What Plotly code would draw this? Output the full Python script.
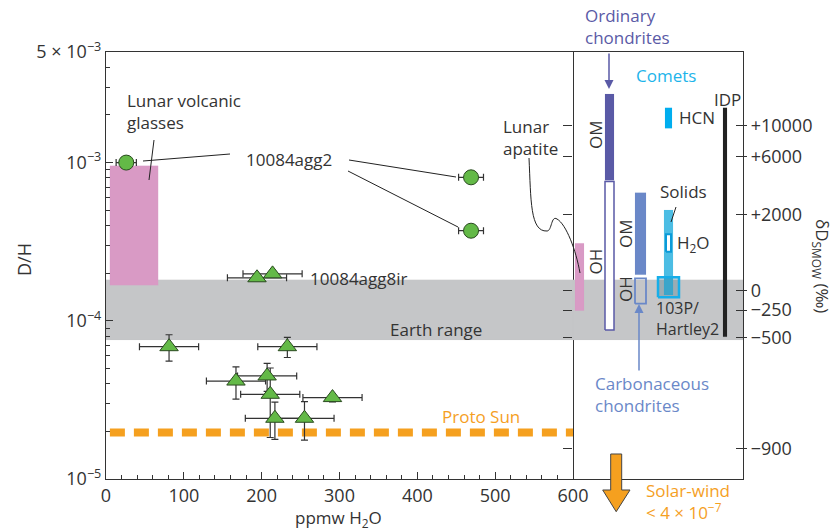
import plotly.graph_objects as go

# ---------------- data ----------------
# 10084agg2 (circles)
agg2_ppm = [26, 469, 469]
agg2_ppm_err = [13, 16, 16]
agg2_dh = [1.00e-3, 8.07e-4, 3.71e-4]

# 10084agg8ir and other lunar glasses (triangles)
agg8_ppm = [194, 214, 81, 233, 167, 207, 211, 217, 255, 291]
agg8_ppm_err = [38, 38, 38, 38, 38, 38, 38, 38, 38, 38]
agg8_dh = [1.87e-4, 1.98e-4, 6.86e-5, 6.86e-5, 4.16e-5, 4.48e-5, 3.43e-5, 2.42e-5, 2.42e-5, 3.27e-5]
agg8_dh_err = [0, 0, 1.3e-5, 1.0e-5, 9.6e-6, 9.0e-6, 1.6e-5, 6.4e-6, 6.6e-6, 2.0e-6]

glass_ppm = [5, 67]
glass_dh = [1.68e-4, 9.56e-4]
earth_dh = [7.56e-5, 1.818e-4]
protosun_ppm = [5, 600]
protosun_dh = 1.97e-5

# right panel ranges (D/H)
apatite_dh = [1.16e-4, 3.09e-4]
oc_om_dh = [7.72e-4, 2.71e-3]
oc_oh_dh = [8.74e-5, 7.60e-4]
cc_om_dh = [1.956e-4, 6.45e-4]
cc_oh_dh = [1.282e-4, 1.855e-4]
solids_dh = [1.455e-4, 5.01e-4]
h2o_dh = [2.73e-4, 3.52e-4]
hartley_dh = [1.407e-4, 1.883e-4]
hcn_dh = [1.647e-3, 2.22e-3]
idp_dh = [7.93e-5, 2.22e-3]

# ticks
ppm_ticks = [0, 100, 200, 300, 400, 500, 600]
dh_ticks = [1e-5, 1e-4, 1e-3, 5e-3]
dh_labels = ["10<sup>−5</sup>", "10<sup>−4</sup>", "10<sup>−3</sup>", "5 × 10<sup>−3</sup>"]
dh_minor = [2e-5, 3e-5, 4e-5, 5e-5, 6e-5, 7e-5, 8e-5, 9e-5,
            2e-4, 3e-4, 4e-4, 5e-4, 6e-4, 7e-4, 8e-4, 9e-4,
            2e-3, 3e-3, 4e-3]
dD_ticks = [10000, 6000, 2000, 0, -250, -500, -900]
dD_labels = ["+10000", "+6000", "+2000", "0", "−250", "−500", "−900"]
SMOW = 155.76e-6

# ---------------- layout helpers ----------------
W, H = 834, 530
L, R, T, B = 106, 743, 52, 479
XSPLIT = 573
def fx(p): return (p - L) / (R - L)
def fy(p): return (B - p) / (B - T)

TXT = "#333333"
FONT = "Open Sans"
PURPLE = "#5a5aa6"
CBLUE = "#6a88c8"
CYAN = "#1db4ea"
ORANGE = "#f5a01f"
GRAY = "#c5c6c8"
PINK = "#d99ac5"
GREEN = "#63b947"
YR = [-5, -2.30103]

# right panel column positions (x2 units, 0..170)
col = dict(apatite=(2, 11), oc=(32, 41), cc=(62, 73), solids=(91, 100), h2o=(93, 98),
           hartley=(85, 106), hcn=(92, 99), idp=(150, 154))

fig = go.Figure()

def rect(xr, yr, xa="x", fill="white", line=None, lw=0):
    x0, x1 = xr
    y0, y1 = yr
    return go.Scatter(x=[x0, x1, x1, x0, x0], y=[y0, y0, y1, y1, y0], xaxis=xa, yaxis="y",
                      mode="lines", fill="toself", fillcolor=fill,
                      line=dict(color=line if line else fill, width=lw if lw else 0.1),
                      hoverinfo="skip", showlegend=False)

# Earth range band
fig.add_trace(rect([0, 600], earth_dh, "x", GRAY))
fig.add_trace(rect([0, 170], earth_dh, "x2", GRAY))
# Lunar volcanic glasses
fig.add_trace(rect(glass_ppm, glass_dh, "x", PINK))
# Proto Sun
fig.add_trace(go.Scatter(x=protosun_ppm, y=[protosun_dh] * 2, mode="lines",
                         line=dict(color=ORANGE, width=8, dash="15px,9px"),
                         hoverinfo="skip", showlegend=False))
# triangles
fig.add_trace(go.Scatter(x=agg8_ppm, y=agg8_dh, mode="markers",
                         marker=dict(symbol="triangle-up", size=16, color=GREEN,
                                     line=dict(color="#2a4a20", width=1)),
                         error_x=dict(type="data", array=agg8_ppm_err, color="#333", thickness=1.2, width=3.5),
                         error_y=dict(type="data", array=agg8_dh_err, color="#333", thickness=1.2, width=3.5),
                         showlegend=False))
# circles
fig.add_trace(go.Scatter(x=agg2_ppm, y=agg2_dh, mode="markers",
                         marker=dict(symbol="circle", size=15, color=GREEN,
                                     line=dict(color="#2a4a20", width=1)),
                         error_x=dict(type="data", array=agg2_ppm_err, color="#333", thickness=1.2, width=3.5),
                         showlegend=False))

# right panel
fig.add_trace(rect(col["apatite"], apatite_dh, "x2", PINK))
fig.add_trace(rect(col["oc"], oc_om_dh, "x2", PURPLE))
fig.add_trace(rect(col["oc"], oc_oh_dh, "x2", "white", PURPLE, 1.5))
fig.add_trace(rect(col["cc"], cc_om_dh, "x2", CBLUE))
fig.add_trace(rect(col["cc"], cc_oh_dh, "x2", "rgba(0,0,0,0)", CBLUE, 1.8))
fig.add_trace(rect(col["solids"], solids_dh, "x2", "#4cbde4"))
fig.add_trace(rect(col["hartley"], hartley_dh, "x2", "rgba(0,80,110,0.22)", "#16aee9", 2.5))
fig.add_trace(rect(col["h2o"], h2o_dh, "x2", "white", "#0b9ad8", 2))
fig.add_trace(rect(col["hcn"], hcn_dh, "x2", "#00aeef"))
fig.add_trace(rect(col["idp"], idp_dh, "x2", "#222222"))

# dummy traces so the overlay axes render
for ya in ["y2", "y3", "y4"]:
    fig.add_trace(go.Scatter(x=[50], y=[1e-4], xaxis="x2", yaxis=ya, mode="markers",
                             marker=dict(opacity=0), hoverinfo="skip", showlegend=False))

dD_vals = [SMOW * (1 + d / 1000) for d in dD_ticks]

axis_line = dict(showline=True, linecolor="#333", linewidth=1.2, showgrid=False, zeroline=False)
fig.update_layout(
    width=W, height=H, margin=dict(l=L, r=W - R, t=T, b=H - B),
    paper_bgcolor="white", plot_bgcolor="white",
    font=dict(family=FONT, color=TXT, size=17),
    xaxis=dict(domain=[0, fx(XSPLIT)], range=[0, 600], anchor="y", mirror=True,
               tickmode="array", tickvals=ppm_ticks, ticks="inside", ticklen=7, tickcolor="#333",
               tickfont=dict(size=18), minor=dict(dtick=20, ticks="inside", ticklen=4, tickcolor="#333"),
               **axis_line),
    xaxis2=dict(domain=[fx(XSPLIT), 1], range=[0, 170], anchor="y", mirror=True,
                ticks="", showticklabels=False, **axis_line),
    yaxis=dict(type="log", range=YR, anchor="x", mirror=True,
               tickmode="array", tickvals=dh_ticks, ticktext=dh_labels,
               ticks="inside", ticklen=7, tickcolor="#333", tickfont=dict(size=18),
               minor=dict(tickmode="array", tickvals=dh_minor, ticks="inside", ticklen=4, tickcolor="#333"),
               **axis_line),
    yaxis2=dict(type="log", range=YR, overlaying="y", anchor="x2", side="right",
                tickmode="array", tickvals=dD_vals, ticktext=dD_labels,
                ticks="outside", ticklen=3, tickcolor="#333", tickfont=dict(size=18),
                **axis_line),
    yaxis3=dict(type="log", range=YR, overlaying="y", anchor="x2", side="right",
                tickmode="array", tickvals=dD_vals, showticklabels=False,
                ticks="inside", ticklen=7, tickcolor="#333", showgrid=False, zeroline=False, showline=False),
    yaxis4=dict(type="log", range=YR, overlaying="y", anchor="x2", side="left",
                tickmode="array", tickvals=dD_vals, showticklabels=False,
                ticks="outside", ticklen=9, tickcolor="#333", showgrid=False, zeroline=False, showline=False),
)

def txt(text, x, y, anchor="center", size=17, color=TXT, angle=0):
    return dict(text=text, x=fx(x), y=fy(y), xref="paper", yref="paper", xanchor=anchor,
                yanchor="middle", showarrow=False, textangle=angle, align=anchor if anchor != "center" else "center",
                font=dict(family=FONT, size=size, color=color))

ann = [
    txt("D/H", 24, 260, size=18, angle=-90),
    txt("ppmw H<sub>2</sub>O", 338, 518),
    txt("Lunar volcanic<br>glasses", 125, 111.5, "left"),
    txt("10084agg2", 289, 160),
    txt("10084agg8ir", 308, 278, "left"),
    txt("Earth range", 436, 329),
    txt("Proto Sun", 481, 416, color=ORANGE),
    txt("Lunar<br>apatite", 501, 137, "left"),
    txt("Ordinary<br>chondrites", 583, 27, "left", color=PURPLE),
    txt("Comets", 634, 76, "left", color=CYAN),
    txt("IDP", 712, 99, "left"),
    txt("HCN", 677, 118, "left"),
    txt("Solids", 658, 191, "left"),
    txt("H<sub>2</sub>O", 675, 243, "left"),
    txt("103P/<br>Hartley2", 654, 318, "left", size=16),
    txt("Carbonaceous<br>chondrites", 593, 394, "left", color=CBLUE),
    txt("Solar-wind<br>&lt; 4 × 10<sup>−7</sup>", 644, 501, "left", color=ORANGE),
    txt("OM", 595, 135, angle=-90),
    txt("OH", 595, 261.5, angle=-90),
    txt("OM", 625, 234, angle=-90),
    txt("OH", 625, 289, angle=-90),
    txt("δD<sub>SMOW</sub> (‰)", 822, 266, angle=90),
    dict(text="", x=fx(609), y=fy(89), xref="paper", yref="paper", showarrow=True,
         ax=0, ay=-37, arrowhead=2, arrowsize=1.2, arrowwidth=1.5, arrowcolor=PURPLE),
    dict(text="", x=fx(639), y=fy(304), xref="paper", yref="paper", showarrow=True,
         ax=0, ay=68, arrowhead=2, arrowsize=1.2, arrowwidth=1.5, arrowcolor=CBLUE),
]
fig.update_layout(annotations=ann)

def line(x0, y0, x1, y1):
    return dict(type="line", xref="paper", yref="paper", x0=fx(x0), y0=fy(y0), x1=fx(x1), y1=fy(y1),
                line=dict(color="#222", width=1))

def path(pts, cmds):
    s = ""
    for c, (a, b) in zip(cmds, pts):
        s += f"{c} {fx(a):.5f},{fy(b):.5f} "
    return s

curve = ("M {},{} C {},{} {},{} {},{} C {},{} {},{} {},{} C {},{} {},{} {},{}".format(
    fx(529), fy(158), fx(531), fy(200), fx(530), fy(232), fx(547), fy(231),
    fx(552), fy(231), fx(551), fy(215), fx(557), fy(219),
    fx(566), fy(224), fx(576), fy(250), fx(580), fy(273)))

arrow_pts = [(610.7, 454), (621.7, 454), (621.7, 490), (630, 490), (616.2, 511.7), (602.7, 490), (610.7, 490)]
arrow = path(arrow_pts, ["M", "L", "L", "L", "L", "L", "L"]) + "Z"

shapes = [
    line(154, 140, 149, 180),
    line(143, 161, 230, 154),
    line(349, 160, 456, 177),
    line(348, 171, 458, 227),
    line(676, 207, 671, 222),
    dict(type="path", xref="paper", yref="paper", path=curve, line=dict(color="#222", width=1)),
    dict(type="path", xref="paper", yref="paper", path=arrow, fillcolor=ORANGE,
         line=dict(color="#444", width=1)),
]
fig.update_layout(shapes=shapes)

fig.write_html("out.html", config={"displayModeBar": False},
               post_script="document.body.style.margin='0';document.body.style.overflow='hidden';")
